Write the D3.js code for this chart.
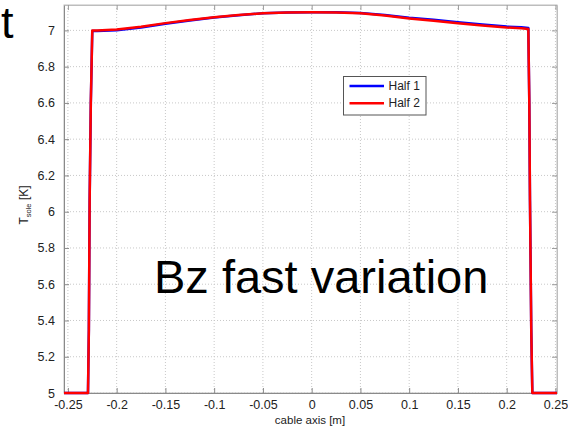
<!DOCTYPE html>
<html><head><meta charset="utf-8">
<script src="https://cdn.jsdelivr.net/npm/d3@7"></script>
<style>body{margin:0;background:#fff;} svg{display:block;font-family:"Liberation Sans",Arial,sans-serif;}</style>
</head><body><svg id="c" width="568" height="429"></svg>
<script>
const xTicks = [-0.25,-0.2,-0.15,-0.1,-0.05,0,0.05,0.1,0.15,0.2,0.25];
const xTickLabels = ["-0.25","-0.2","-0.15","-0.1","-0.05","0","0.05","0.1","0.15","0.2","0.25"];
const yTicks = [5,5.2,5.4,5.6,5.8,6,6.2,6.4,6.6,6.8,7];
const yTickLabels = ["5","5.2","5.4","5.6","5.8","6","6.2","6.4","6.6","6.8","7"];
const seriesNames = ["Half 1","Half 2"];
const xs = [-0.254,-0.2294,-0.2285,-0.2277,-0.2265,-0.225,-0.22,-0.2,-0.175,-0.15,-0.125,-0.1,-0.075,-0.05,-0.025,0,0.025,0.05,0.075,0.1,0.125,0.15,0.175,0.2,0.215,0.2222,0.2232,0.2239,0.2252,0.2263,0.2516];
const half1 = [5,5,5.35,6.06,6.6,6.997,6.997,7.001,7.016,7.037,7.055,7.071,7.084,7.094,7.099,7.100,7.100,7.096,7.085,7.070,7.058,7.045,7.032,7.021,7.017,7.013,6.6,6.06,5.35,5,5];
const half2 = [5,5,5.35,6.06,6.6,7.0,7.0,7.005,7.020,7.040,7.057,7.072,7.085,7.094,7.099,7.100,7.099,7.094,7.082,7.066,7.053,7.040,7.027,7.016,7.012,7.008,6.6,6.06,5.35,5,5];

const svg = d3.select("#c");
const L=64, R=557, T=5, B=393;
const x = d3.scaleLinear().domain([-0.254,0.2516]).range([L,R]);
const y = d3.scaleLinear().domain([5,7.14]).range([B,T]);

// grid
const g = svg.append("g");
g.selectAll(".gx").data(xTicks).join("line")
  .attr("x1",d=>x(d)).attr("x2",d=>x(d)).attr("y1",T).attr("y2",B)
  .attr("stroke","#c8c8c8").attr("stroke-width",1).attr("stroke-dasharray","1,2");
g.selectAll(".gy").data(yTicks).join("line")
  .attr("y1",d=>y(d)).attr("y2",d=>y(d)).attr("x1",L).attr("x2",R)
  .attr("stroke","#c8c8c8").attr("stroke-width",1).attr("stroke-dasharray","1,2");

// box
svg.append("rect").attr("x",L).attr("y",T).attr("width",R-L).attr("height",B-T)
  .attr("fill","none").attr("stroke","#bdbdbd").attr("stroke-width",1);

// axes
const fmtX = d=>xTickLabels[xTicks.indexOf(d)];
const fmtY = d=>yTickLabels[yTicks.indexOf(d)];
const axB = svg.append("g").attr("transform",`translate(0,${B})`)
  .call(d3.axisBottom(x).tickValues(xTicks).tickFormat(fmtX).tickSizeInner(-5).tickSizeOuter(0).tickPadding(9));
const axT = svg.append("g").attr("transform",`translate(0,${T})`)
  .call(d3.axisTop(x).tickValues(xTicks).tickFormat("").tickSizeInner(-5).tickSizeOuter(0));
const axL = svg.append("g").attr("transform",`translate(${L},0)`)
  .call(d3.axisLeft(y).tickValues(yTicks).tickFormat(fmtY).tickSizeInner(-5).tickSizeOuter(0).tickPadding(9));
const axR = svg.append("g").attr("transform",`translate(${R},0)`)
  .call(d3.axisRight(y).tickValues(yTicks).tickFormat("").tickSizeInner(-5).tickSizeOuter(0));
[axB,axL].forEach(a=>{a.select(".domain").attr("stroke","#8a8a8a");a.selectAll(".tick line").attr("stroke","#8a8a8a");});
[axT,axR].forEach(a=>{a.select(".domain").attr("stroke","#bdbdbd");a.selectAll(".tick line").attr("stroke","#9a9a9a");});
[axB,axL].forEach(a=>a.selectAll("text").attr("font-size","12.5px").attr("fill","#222").style("font-family","'Liberation Sans',Arial,sans-serif"));
axB.selectAll(".tick text").attr("dy","0.55em");

// lines
const line = d3.line().x((d,i)=>x(xs[i])).y(d=>y(d));
svg.append("path").datum(half1).attr("d",line).attr("fill","none").attr("stroke","#0000ff").attr("stroke-width",2.5).attr("stroke-linejoin","round");
svg.append("path").datum(half2).attr("d",line).attr("fill","none").attr("stroke","#ff0000").attr("stroke-width",2.5).attr("stroke-linejoin","round");

// axis labels
svg.append("text").attr("x",310).attr("y",424).attr("text-anchor","middle").attr("font-size","11.5px").attr("fill","#222").text("cable axis [m]");
const yl = svg.append("text").attr("transform","translate(28,205) rotate(-90)").attr("text-anchor","middle").attr("font-size","12px").attr("fill","#222");
yl.append("tspan").text("T");
yl.append("tspan").attr("font-size","7.5px").attr("dy","3").text("sole");
yl.append("tspan").attr("dy","-3").text(" [K]");

// legend
const lg = svg.append("g");
lg.append("rect").attr("x",343.5).attr("y",76.5).attr("width",82.5).attr("height",38.5).attr("fill","#fff").attr("stroke","#555").attr("stroke-width",1);
const colors=["#0000ff","#ff0000"];
seriesNames.forEach((n,i)=>{
  const yy = 86 + i*17.3;
  lg.append("line").attr("x1",349.5).attr("x2",384).attr("y1",yy).attr("y2",yy).attr("stroke",colors[i]).attr("stroke-width",2.5);
  lg.append("text").attr("x",388.5).attr("y",yy+4).attr("font-size","12px").attr("fill","#222").text(n);
});

// overlay texts
svg.append("text").attr("x",154).attr("y",293).attr("font-size","47px").attr("fill","#000").text("Bz fast variation");
svg.append("text").attr("x",1).attr("y",38).attr("font-size","45px").attr("fill","#000").text("t");
</script></body></html>
